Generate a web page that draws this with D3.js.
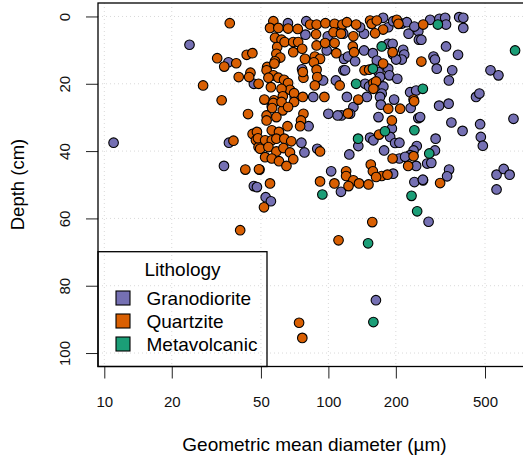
<!DOCTYPE html>
<html>
<head>
<meta charset="utf-8">
<script src="https://cdn.jsdelivr.net/npm/d3@7"></script>
<style>
  body { margin: 0; background: #fff; }
  svg { display: block; font-family: "Liberation Sans", Arial, sans-serif; }
</style>
</head>
<body>
<svg id="chart" width="523" height="456"></svg>
<script>
// ---- data: [geometric mean diameter (um), depth (cm)] ----
var lithologies = ['Granodiorite', 'Quartzite', 'Metavolcanic'];
var lithColors = ['#7570b3', '#d95f02', '#1b9e77'];

var granodiorite = [
    [11, 37.5], [24, 8.4], [35.8, 13.6], [36, 37.5], [34.2, 44.4], [46.5, 20], [46.5, 50.4],
    [52.5, 53.7], [66, 2], [79.7, 1.4], [79, 5.4], [99.4, 5.9], [76.3, 15.7], [94.7, 19],
    [108, 19], [116.7, 16], [85.6, 23.9], [70.8, 23.9], [55.9, 26.7], [100, 28.9], [114.4, 29.4],
    [110, 29.4], [114.4, 4.2], [98.3, 10.1], [75.8, 37.5], [78.2, 40.4], [81.6, 32.6], [89.2, 39.3],
    [102.9, 46], [113.8, 52.1], [48, 50.7], [55.4, 54.9], [116.5, 5.1], [144.3, 5.1], [138.5, 3.2],
    [175.5, 0.4], [185, 3.2], [194.5, 1.4], [213, 2.1], [224, 1.7], [228, 5.1], [252, 4.4],
    [242, 3], [253.5, 6.9], [144.3, 10.1], [158, 10.9], [185, 8.1], [193.5, 8.1], [194.5, 11.3],
    [215.6, 9.9], [218, 11.3], [212.6, 12.8], [200.6, 12.8], [117.5, 12.6], [122.4, 11.9],
    [131.6, 13.3], [118.7, 16], [164.5, 13.1], [167.3, 16.5], [185, 15.5], [187, 17.5], [203, 18.5],
    [170, 18], [145.8, 20], [151.9, 20.8], [176, 20.8], [173, 22.9], [121, 23.9], [148.5, 23.9],
    [231.6, 22.5], [246.4, 22], [196.5, 24.7], [129.3, 26.9], [170, 23.9], [171.5, 26.2],
    [233, 27.2], [125, 28.9], [167.3, 29.9], [252, 30.2], [136, 38.5], [153.5, 36], [158.8, 36.8],
    [192, 33.3], [188.6, 35.8], [198.5, 37.6], [207.5, 37.5], [248, 38.5], [240, 39.8], [231.6, 41.2],
    [207.5, 42.2], [220, 41.7], [177.3, 39.8], [124, 41], [246.4, 44.4], [276, 43.7], [194.5, 46.7],
    [242, 49.2], [264.5, 48.7], [284.5, 1], [313, 0.7], [332, 0.4], [335, 2.4], [383.5, 0.2],
    [400, 0.4], [400, 3.4], [260, 6.9], [335, 8.9], [379, 11.4], [294.5, 11.9], [299, 12.8],
    [304.5, 15.5], [357, 16], [345, 19], [529, 16], [574, 17.5], [456, 23.9], [472, 22.9],
    [312, 26.5], [344, 25.9], [670, 30.4], [256.7, 29.9], [354, 31.5], [397, 34], [475.5, 32],
    [479, 35.8], [489, 38.4], [301, 36.3], [299, 39.8], [288, 43.5], [345.7, 45.5], [338.7, 47.5],
    [264, 48.5], [563, 47], [606, 45.3], [644, 47], [563, 51.4], [280, 61], [163, 84.3]
];

var quartzite = [
    [36.3, 2], [31.9, 12.4], [34.3, 14.9], [38.8, 13.9], [43.2, 11.4], [45.8, 10.9], [44.9, 16.7],
    [44.3, 18], [48.8, 20], [39.8, 18], [27.6, 20.5], [33.4, 24.9], [43.8, 29], [37.7, 36.9],
    [45.9, 34.9], [47.5, 36.8], [48.8, 38.8], [42.6, 45.5], [49.3, 45.5], [51.6, 56.7], [40.4, 63.5],
    [56.8, 1.4], [54.9, 3.4], [59.8, 3.4], [66.1, 3.6], [73, 3.7], [82.9, 2.4], [88.6, 2.4],
    [88.1, 5.3], [97, 2], [106.6, 2.2], [115.5, 2.4], [105.4, 4.7], [113.8, 5.1], [57.8, 6.3],
    [61.8, 6.9], [59.1, 9.1], [63.8, 7.6], [69.7, 7.6], [73.3, 7.6], [69.7, 10.6], [76.4, 9.6],
    [78.6, 12.6], [58.6, 11.1], [61, 12.2], [57.8, 13.3], [88.6, 8.6], [96.7, 7.9], [106.6, 7.9],
    [108.5, 10.9], [87, 11.9], [91.8, 12.6], [86.1, 13.6], [53.3, 15], [53, 16], [57.4, 14],
    [56.8, 17.5], [54, 18.2], [59.8, 18.2], [63.4, 18.8], [66.1, 19.8], [67.4, 21.8], [70.3, 22.8],
    [55.4, 21], [61.8, 21.5], [62.6, 23.7], [51.8, 24.7], [57.2, 24.9], [56.8, 25.7], [70.3, 25.4],
    [76.9, 23.9], [77.4, 18.2], [76.9, 16.5], [88.6, 15.8], [89.2, 18], [87, 20.5], [112.3, 20.5],
    [96, 23.9], [62.6, 27.9], [53, 29.4], [58.6, 29.9], [77.4, 28.9], [75.5, 30.9], [56.1, 27.2],
    [61.8, 25.4], [66.1, 26.9], [74.8, 32.6], [53, 30.9], [65.7, 32.6], [55.9, 33.8], [60.2, 34.3],
    [48, 34.3], [48.5, 36.2], [52.2, 36.8], [55.9, 36.8], [58.6, 36.3], [63.6, 36.3], [68.3, 37.1],
    [49.6, 39.3], [54, 38.8], [58.6, 40.1], [63, 39.1], [67.4, 40.4], [52.2, 41.8], [55.9, 42.2],
    [60.2, 43], [69.7, 42.4], [65, 44.4], [49, 45.4], [91.8, 40.1], [91.8, 49], [106.4, 49.6],
    [54.9, 49.6], [121, 1.7], [133, 2.4], [129.3, 5.9], [153.5, 1.2], [156, 2.2], [164.5, 1.2],
    [175.5, 3.9], [161.6, 5], [202, 1], [205.5, 2.2], [265, 2.4], [128.5, 8.9], [130.2, 10.6],
    [193.5, 10.6], [175.5, 14], [145, 16], [152, 15.8], [260, 13.4], [158.8, 19.8], [163.3, 19.3],
    [158.8, 21.5], [136, 24.7], [240, 24.7], [185, 27.4], [209, 27.4], [241.4, 25.2], [122.4, 28.8],
    [192, 30.9], [168.4, 35.1], [240, 41.5], [193.5, 42.2], [227, 44.4], [154.6, 44], [158, 46],
    [173, 47.4], [183.5, 47], [163.3, 47.7], [120, 46], [120, 47.4], [129.3, 48.7], [137, 49.6],
    [151, 49.9], [123, 50.4], [315.3, 49.5], [157, 61.1], [111, 66.5], [74, 91], [76.5, 95.5]
];

var metavolcanic = [
    [173, 8.9], [158, 15.5], [133, 20], [308, 2.4], [681, 10.1], [264, 21.5], [178.8, 34.1],
    [135.7, 36.3], [242, 33.8], [282, 40.7], [235, 53.3], [94, 52.9], [249, 57.9], [150.4, 67.4],
    [158.8, 90.8]
];

var xTicks = [10, 20, 50, 100, 200, 500];
var yTicks = [0, 20, 40, 60, 80, 100];

// ---- layout ----
var svg = d3.select('#chart');
var plotLeft = 98, plotTop = 3, plotRight = 531, plotBottom = 366.5;

var x = d3.scaleLog().domain([10, 500]).range([104.3, 485]);
var y = d3.scaleLinear().domain([-4, 104]).range([plotTop, plotBottom]);

// grid
var grid = svg.append('g')
    .attr('stroke', '#d9d9d9')
    .attr('stroke-width', 1)
    .attr('stroke-dasharray', '1,3');
grid.selectAll('.vgrid').data(xTicks).join('line')
    .attr('x1', function(d) { return x(d); }).attr('x2', function(d) { return x(d); })
    .attr('y1', plotTop).attr('y2', plotBottom);
grid.selectAll('.hgrid').data(yTicks).join('line')
    .attr('x1', plotLeft).attr('x2', plotRight)
    .attr('y1', function(d) { return y(d); }).attr('y2', function(d) { return y(d); });

// axes
var xAxis = svg.append('g')
    .attr('transform', 'translate(0,' + plotBottom + ')')
    .call(d3.axisBottom(x).tickValues(xTicks).tickFormat(d3.format('d')).tickSize(12).tickPadding(18));
var yAxis = svg.append('g')
    .attr('transform', 'translate(' + plotLeft + ',0)')
    .call(d3.axisLeft(y).tickValues(yTicks).tickSize(12).tickPadding(0));
[xAxis, yAxis].forEach(function(ax) {
    ax.select('.domain').remove();
    ax.selectAll('line').attr('stroke', '#222').attr('stroke-width', 1);
    ax.selectAll('text').attr('font-size', 15).attr('fill', '#111')
        .attr('font-family', '"Liberation Sans", Arial, sans-serif');
});
yAxis.selectAll('text')
    .attr('x', null).attr('dy', null)
    .attr('text-anchor', 'middle')
    .attr('transform', 'translate(-28,0) rotate(-90)');

// points
var series = [granodiorite, quartzite, metavolcanic];
var pts = svg.append('g');
series.forEach(function(data, i) {
    pts.selectAll('.pt' + i).data(data).join('circle')
        .attr('class', 'pt' + i)
        .attr('cx', function(d) { return x(d[0]); })
        .attr('cy', function(d) { return y(d[1]); })
        .attr('r', 4.8)
        .attr('fill', lithColors[i])
        .attr('stroke', '#000')
        .attr('stroke-width', 1.1);
});

// plot frame
svg.append('rect')
    .attr('x', plotLeft).attr('y', plotTop)
    .attr('width', plotRight - plotLeft).attr('height', plotBottom - plotTop)
    .attr('fill', 'none').attr('stroke', '#000').attr('stroke-width', 1.3);

// legend
var lg = svg.append('g');
lg.append('rect')
    .attr('x', plotLeft).attr('y', 251.7)
    .attr('width', 169).attr('height', plotBottom - 251.7)
    .attr('fill', 'none').attr('stroke', '#000').attr('stroke-width', 1.3);
lg.append('text')
    .attr('x', 182.5).attr('y', 276)
    .attr('text-anchor', 'middle').attr('font-size', 19)
    .text('Lithology');
var item = lg.selectAll('.item').data(lithologies).join('g')
    .attr('class', 'item')
    .attr('transform', function(d, i) { return 'translate(0,' + (298 + i * 23) + ')'; });
item.append('rect')
    .attr('x', 116).attr('y', -7).attr('width', 14).attr('height', 14)
    .attr('fill', function(d, i) { return lithColors[i]; })
    .attr('stroke', '#000').attr('stroke-width', 1.1);
item.append('text')
    .attr('x', 146.5).attr('y', 7).attr('font-size', 19)
    .text(function(d) { return d; });

// axis titles
svg.append('text')
    .attr('x', 314.5).attr('y', 451)
    .attr('text-anchor', 'middle').attr('font-size', 19)
    .text('Geometric mean diameter (\u00b5m)');
svg.append('text')
    .attr('transform', 'translate(24,184.5) rotate(-90)')
    .attr('text-anchor', 'middle').attr('font-size', 18.5)
    .text('Depth (cm)');
</script>
</body>
</html>
